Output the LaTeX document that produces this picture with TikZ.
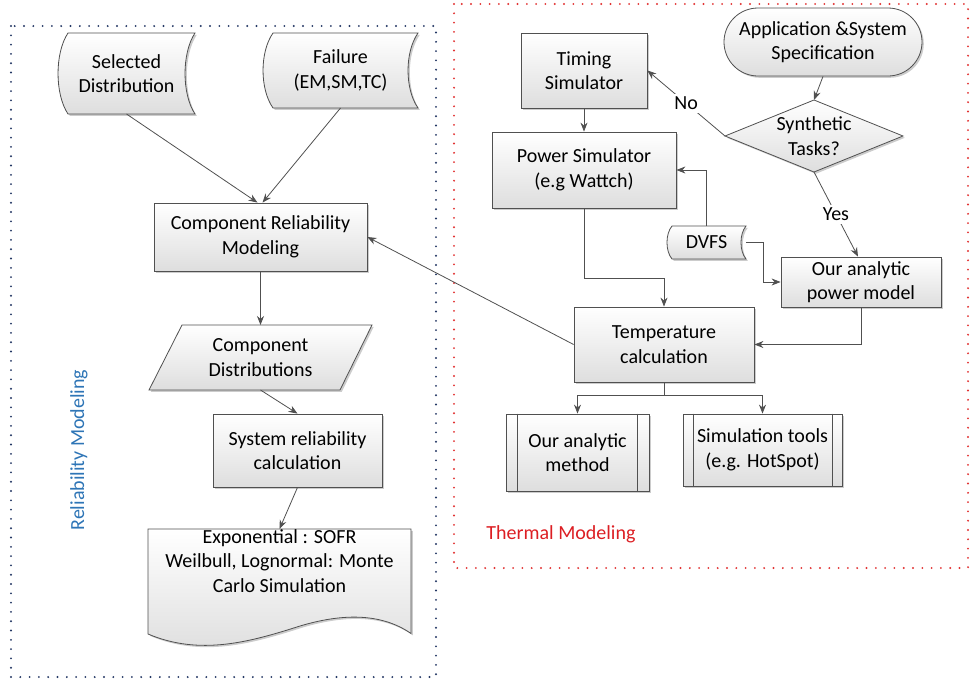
\documentclass[tikz,border=0pt]{standalone}
\usepackage{fontspec}
\setmainfont{Carlito}
\usetikzlibrary{arrows.meta,shadows}
\definecolor{edgec}{RGB}{80,80,80}
\definecolor{bluedot}{RGB}{35,55,100}
\definecolor{reddot}{RGB}{225,50,50}
\definecolor{relblue}{RGB}{46,117,182}
\definecolor{thermred}{RGB}{220,30,35}
\pgfdeclarelayer{bg}
\pgfsetlayers{bg,main}
\tikzset{
  fillstyle/.style={draw=edgec, line width=0.8pt, top color=white, bottom color=black!13,
    drop shadow={shadow xshift=1.8pt, shadow yshift=-1.8pt, opacity=0.2, fill=black}},
  box/.style={fillstyle, inner sep=0pt, align=center},
  hold/.style={inner sep=0pt, outer sep=0pt, align=center},
  arr/.style={draw=edgec, line width=0.8pt, -{Stealth[length=9pt,width=7pt]}},
  dotbox/.style={line width=2.1pt, line cap=round, dash pattern=on 0pt off 9.3pt},
}
\begin{document}
\begin{tikzpicture}[x=1pt,y=-1pt,font=\fontsize{20}{24.5}\selectfont]
\useasboundingbox (0,0) rectangle (972,686);

% frames
\draw[dotbox, draw=bluedot] (11,26) rectangle (436,677);
\draw[dotbox, draw=reddot] (454,4) rectangle (968,568);

% ---------- reliability side ----------
\node[hold, minimum width=137pt, minimum height=81pt] (sel) at (126.5,73.5) {Selected\\Distribution};
\node[hold, minimum width=155pt, minimum height=75pt] (fail) at (340.5,70.5) {Failure\\(EM,SM,TC)};
\node[box, minimum width=213pt, minimum height=68pt] (crm) at (260.5,237) {Component Reliability\\Modeling};
\node[hold, minimum width=223pt, minimum height=65pt] (cdist) at (260.5,357.5) {Component\\Distributions};
\node[box, minimum width=169pt, minimum height=73pt] (sysrel) at (297.5,450.5) {System reliability\\calculation};
\node[hold, minimum width=263pt, minimum height=105pt] (doc) at (279.5,581.5) {};
\node[hold] (doctext) at (279.5,561) {Exponential : SOFR\\Weilbull, Lognormal: Monte\\Carlo Simulation};

\node[rotate=90, text=relblue] (rellabel) at (79,450) {Reliability Modeling};
\node[text=thermred] (thermlabel) at (561,534) {Thermal Modeling};

% ---------- thermal side ----------
\node[box, minimum width=126pt, minimum height=75pt] (tim) at (584,70.5) {Timing\\Simulator};
\node[box, minimum width=184pt, minimum height=76pt] (psim) at (584,170) {Power Simulator\\(e.g Wattch)};
\node[box, rounded corners=34pt, minimum width=198pt, minimum height=68pt] (app) at (823,42) {Application \&System\\Specification};
\node[hold, minimum width=178pt, minimum height=72pt] (dia) at (814,136) {Synthetic\\Tasks?};
\node[hold, minimum width=79pt, minimum height=33pt] (dvfs) at (706.5,242.5) {DVFS};
\node[box, minimum width=160pt, minimum height=50pt] (pam) at (861,282) {Our analytic\\power model};
\node[box, minimum width=180pt, minimum height=75pt] (temp) at (664,344.5) {Temperature\\calculation};
\node[box, minimum width=143pt, minimum height=77pt] (oam) at (577.5,452.5) {Our analytic\\method};
\node[box, minimum width=159pt, minimum height=72pt] (simt) at (762.5,450) {Simulation tools\\(e.g. HotSpot)};

% custom outlines (behind text)
\begin{pgfonlayer}{bg}
  % stored data: Selected Distribution
  \path[fillstyle] ([xshift=10pt]sel.north west) -- (sel.north east)
     .. controls ([xshift=-13.3pt,yshift=-20pt]sel.north east) and ([xshift=-13.3pt,yshift=20pt]sel.south east) .. (sel.south east)
     -- ([xshift=10pt]sel.south west)
     .. controls ([xshift=-3.3pt,yshift=20pt]sel.south west) and ([xshift=-3.3pt,yshift=-20pt]sel.north west) .. ([xshift=10pt]sel.north west) -- cycle;
  % stored data: Failure
  \path[fillstyle] ([xshift=10pt]fail.north west) -- (fail.north east)
     .. controls ([xshift=-13.3pt,yshift=-19pt]fail.north east) and ([xshift=-13.3pt,yshift=19pt]fail.south east) .. (fail.south east)
     -- ([xshift=10pt]fail.south west)
     .. controls ([xshift=-3.3pt,yshift=19pt]fail.south west) and ([xshift=-3.3pt,yshift=-19pt]fail.north west) .. ([xshift=10pt]fail.north west) -- cycle;
  % parallelogram: Component Distributions
  \path[fillstyle] ([xshift=33pt]cdist.north west) -- (cdist.north east)
     -- ([xshift=-32pt]cdist.south east) -- (cdist.south west) -- cycle;
  % document shape
  \path[fillstyle] (doc.north west) -- (doc.north east) -- ([yshift=-52pt]doc.east)
     .. controls (380,612) and (340,614) .. (300,626)
     .. controls (250,642) and (200,656) .. ([yshift=-52.5pt]doc.west) -- cycle;
  % diamond
  \path[fillstyle] (dia.west) -- (dia.north) -- (dia.east) -- (dia.south) -- cycle;
  % stored data: DVFS
  \path[fillstyle] ([xshift=5pt]dvfs.north west) -- (dvfs.north east)
     .. controls ([xshift=-6.7pt,yshift=-8pt]dvfs.north east) and ([xshift=-6.7pt,yshift=8pt]dvfs.south east) .. (dvfs.south east)
     -- ([xshift=5pt]dvfs.south west)
     .. controls ([xshift=-1.7pt,yshift=8pt]dvfs.south west) and ([xshift=-1.7pt,yshift=-8pt]dvfs.north west) .. ([xshift=5pt]dvfs.north west) -- cycle;
\end{pgfonlayer}

% predefined-process inner lines
\draw[edgec, line width=0.8pt] ([xshift=12pt]oam.north west) -- ([xshift=12pt]oam.south west)
  ([xshift=-12pt]oam.north east) -- ([xshift=-12pt]oam.south east);
\draw[edgec, line width=0.8pt] ([xshift=11pt]simt.north west) -- ([xshift=11pt]simt.south west)
  ([xshift=-10pt]simt.north east) -- ([xshift=-10pt]simt.south east);

% ---------- connectors ----------
\draw[arr] (sel.south) -- ([xshift=-3pt]crm.north);
\draw[arr] (fail.south) -- ([xshift=2pt]crm.north);
\draw[arr] (crm.south) -- (cdist.north);
\draw[arr] (cdist.south) -- (sysrel.north);
\draw[arr] (sysrel.south) -- (doc.north);
\draw[arr] (temp.west) -- (crm.east);

\draw[arr] (app.south) -- (dia.north);
\draw[arr] (dia.west) -- node[fill=white, inner sep=3pt] (nolabel) {No} (tim.east);
\draw[arr] (dia.south) -- node[fill=white, inner sep=3pt] (yeslabel) {Yes} ([xshift=-3pt]pam.north);
\draw[arr] (tim.south) -- (psim.north);
\draw[arr] (dvfs.north) |- (psim.east);
\draw[arr] (dvfs.east) -- ++(17,0) |- (pam.west);
\draw[arr] (psim.south) -- ++(0,70) -| (temp.north);
\draw[arr] (pam.south) |- (temp.east);
\draw[arr] (temp.south) -- ++(0,13) -| (oam.north);
\draw[arr] (temp.south) -- ++(0,13) -| (simt.north);
\end{tikzpicture}
\end{document}
